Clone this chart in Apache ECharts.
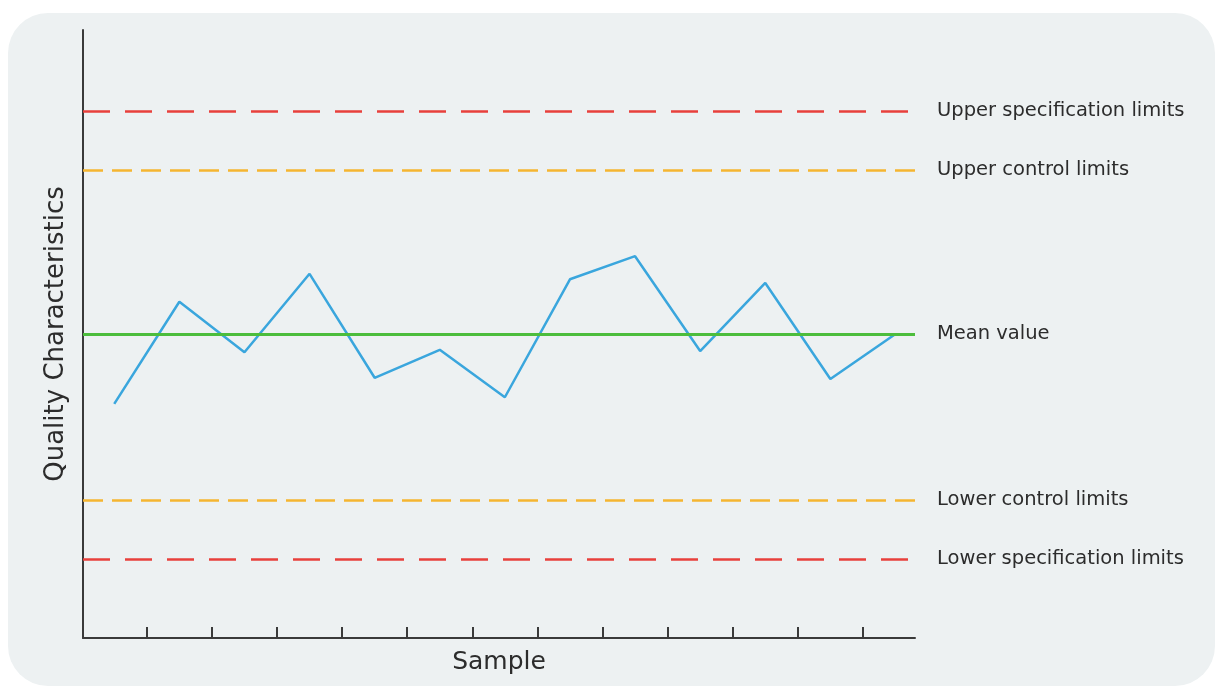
<!DOCTYPE html>
<html>
<head>
<meta charset="utf-8">
<script src="https://cdn.jsdelivr.net/npm/echarts@6/dist/echarts.min.js"></script>
<style>
html,body{margin:0;padding:0;background:#ffffff;}
#chart{width:1216px;height:686px;}
</style>
</head>
<body>
<div id="chart"></div>
<script>
// Sample numbers (one per plotted point)
const samples = [1, 2, 3, 4, 5, 6, 7, 8, 9, 10, 11, 12, 13];
// Quality characteristic measured for each sample (arbitrary units, axis 0..100)
const quality = [38.5, 55.3, 47.0, 59.9, 42.8, 47.4, 39.6, 59.0, 62.8, 47.2, 58.4, 42.6, 50.0];
// Tick positions on the sample axis (boundaries between samples)
const xTicks = [1, 2, 3, 4, 5, 6, 7, 8, 9, 10, 11, 12];
// Reference levels
const meanValue = 50;
const upperControl = 77;
const lowerControl = 22.7;
const upperSpec = 86.7;
const lowerSpec = 13;
const limitNames = {
  usl: 'Upper specification limits',
  ucl: 'Upper control limits',
  mean: 'Mean value',
  lcl: 'Lower control limits',
  lsl: 'Lower specification limits'
};

const chart = echarts.init(document.getElementById('chart'), null, {renderer: 'canvas'});
const font = 'DejaVu Sans, Liberation Sans, Arial, sans-serif';
const red = '#e8403c', orange = '#f5b531', green = '#4cbd3c', blue = '#3aa6dd';
const textColor = '#2c2c2c';

const lineData = samples.map((s, i) => [s - 0.5, quality[i]]);

function limit(val, name, color, dash) {
  return {
    yAxis: val,
    name: name,
    lineStyle: {color: color, width: 2.5, type: dash, cap: 'butt'}
  };
}

chart.setOption({
  animation: false,
  backgroundColor: 'transparent',
  graphic: [{
    type: 'rect',
    z: -10,
    silent: true,
    shape: {x: 8, y: 13, width: 1207, height: 673, r: 40},
    style: {fill: '#edf1f2'}
  }],
  grid: {left: 83, right: 301, top: 30, bottom: 48, containLabel: false},
  xAxis: {
    type: 'value',
    min: 0.02,
    max: 12.8,
    name: 'Sample',
    nameLocation: 'middle',
    nameGap: 12,
    nameTextStyle: {fontFamily: font, fontSize: 25, color: textColor, verticalAlign: 'top'},
    axisLine: {show: true, onZero: false, lineStyle: {color: '#3a3a3a', width: 2}},
    axisTick: {show: true, inside: true, length: 11, customValues: xTicks, lineStyle: {color: '#3a3a3a', width: 2}},
    axisLabel: {show: false},
    splitLine: {show: false}
  },
  yAxis: {
    type: 'value',
    min: 0,
    max: 100,
    name: 'Quality Characteristics',
    nameLocation: 'middle',
    nameGap: 14,
    nameTextStyle: {fontFamily: font, fontSize: 26, color: textColor},
    axisLine: {show: true, onZero: false, lineStyle: {color: '#3a3a3a', width: 2}},
    axisTick: {show: false},
    axisLabel: {show: false},
    splitLine: {show: false}
  },
  series: [
    {
      type: 'line',
      data: lineData,
      symbol: 'none',
      lineStyle: {color: blue, width: 2.5},
      z: 3
    },
    {
      type: 'line',
      data: [],
      z: 2,
      markLine: {
        silent: true,
        symbol: ['none', 'none'],
        label: {
          show: true,
          position: 'end',
          distance: 22,
          formatter: '{b}',
          fontFamily: font,
          fontSize: 19.5,
          color: textColor
        },
        data: [
          limit(upperSpec, limitNames.usl, red, [27, 15]),
          limit(upperControl, limitNames.ucl, orange, [20, 9]),
          {yAxis: meanValue, name: limitNames.mean, lineStyle: {color: green, width: 3, type: 'solid'}},
          limit(lowerControl, limitNames.lcl, orange, [20, 9]),
          limit(lowerSpec, limitNames.lsl, red, [27, 15])
        ]
      }
    }
  ]
});
</script>
</body>
</html>
